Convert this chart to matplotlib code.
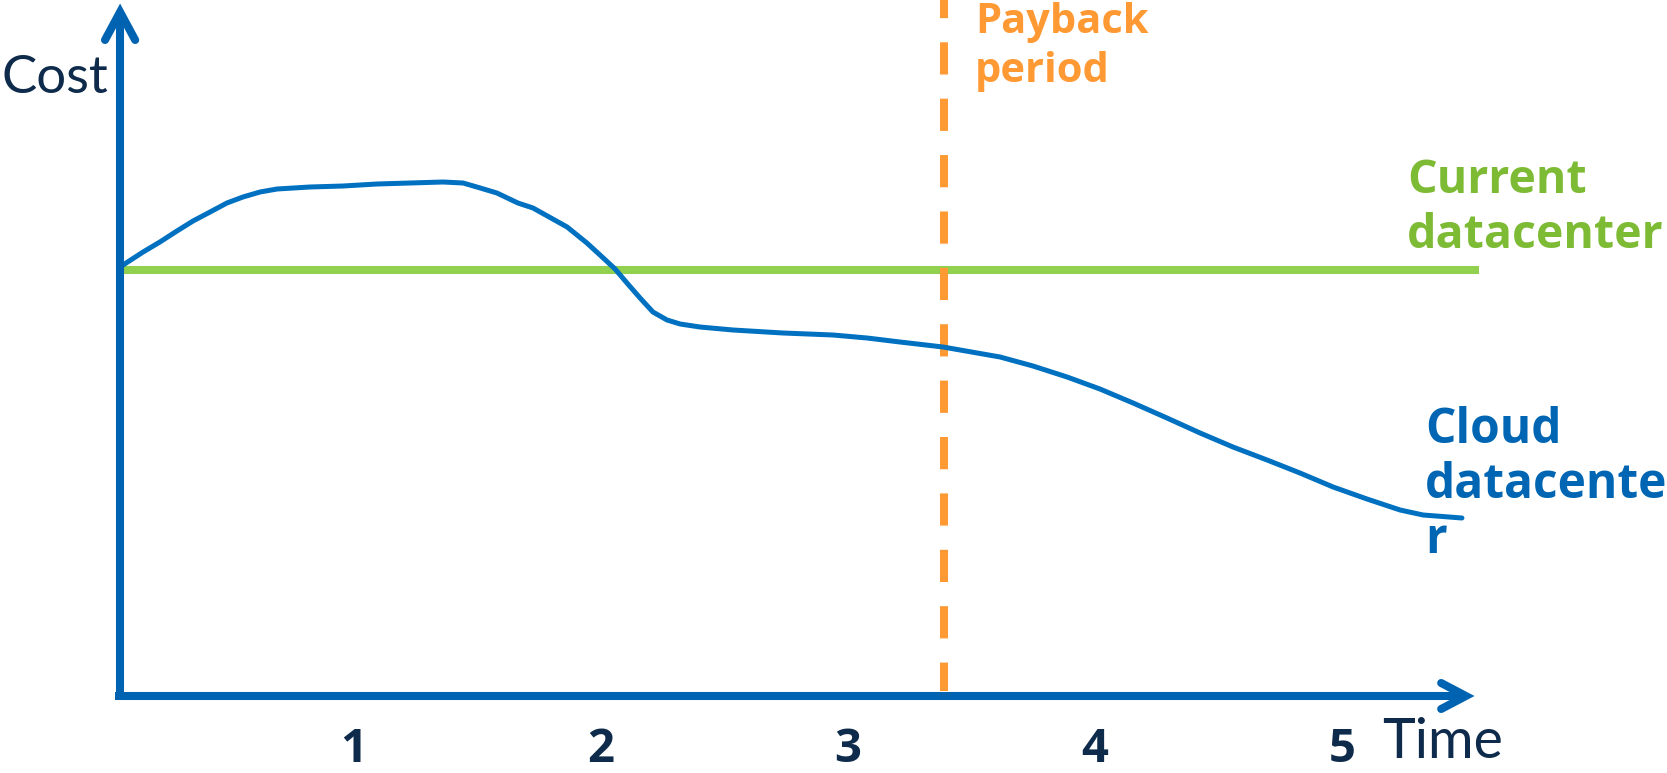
import matplotlib
matplotlib.use('Agg')
import matplotlib.pyplot as plt

# --- data (time in years, cost in arbitrary units) ---
cloud_time = [0.069, 0.150, 0.218, 0.287, 0.352, 0.421, 0.489, 0.554, 0.623, 0.692,
              0.825, 0.959, 1.096, 1.230, 1.363, 1.444, 1.500, 1.581, 1.666, 1.727,
              1.865, 1.945, 1.998, 2.059, 2.107, 2.160, 2.212, 2.269, 2.322, 2.402,
              2.536, 2.738, 2.940, 3.078, 3.211, 3.385, 3.616, 3.749, 3.887, 4.020,
              4.154, 4.291, 4.425, 4.558, 4.696, 4.829, 4.963, 5.100, 5.234, 5.327,
              5.484]
cloud_cost = [4.31, 4.44, 4.54, 4.65, 4.75, 4.84, 4.93, 4.99, 5.04, 5.07,
              5.09, 5.10, 5.12, 5.13, 5.14, 5.13, 5.09, 5.03, 4.93, 4.88,
              4.69, 4.53, 4.41, 4.27, 4.13, 3.98, 3.84, 3.76, 3.72, 3.69,
              3.66, 3.63, 3.61, 3.58, 3.54, 3.49, 3.39, 3.30, 3.19, 3.07,
              2.93, 2.78, 2.63, 2.49, 2.36, 2.23, 2.09, 1.97, 1.86, 1.81,
              1.78]
current_cost = 4.26
current_span = [0.065, 5.553]
payback_time = 3.389
year_ticks = [1, 2, 3, 4, 5]
year_labels = ['1', '2', '3', '4', '5']

# colours
AXIS_BLUE = '#0063B1'
CURVE_BLUE = '#0070C0'
CLOUD_TXT = '#0066B3'
GREEN = '#92D050'
GREEN_TXT = '#7DBB35'
ORANGE = '#FF9933'
NAVY = '#0E2B4B'

FONT = 'Lato'
BOLD_FONT = 'Open Sans'

fig = plt.figure(figsize=(16.67, 7.73), dpi=100)
ax = fig.add_axes([0, 0, 1, 1])
ax.set_xlim(-0.4287, 6.3134)
ax.set_ylim(-0.77, 6.96)
ax.axis('off')

# axes with chevron arrow heads
x0, x_end = 0.057, 5.50
y_top = 6.84
ax.plot([x0, x0], [-0.04, y_top], color=AXIS_BLUE, lw=5.8, solid_capstyle='butt', zorder=4)
ax.plot([x0 - 0.02, x_end], [0, 0], color=AXIS_BLUE, lw=5.8, solid_capstyle='butt', zorder=4)
ax.plot([x0 - 0.061, x0, x0 + 0.061], [y_top - 0.28, y_top, y_top - 0.28],
        color=AXIS_BLUE, lw=5.8, solid_capstyle='round', solid_joinstyle='miter', zorder=4)
ax.plot([x_end - 0.10, x_end, x_end - 0.10], [0.13, 0, -0.13],
        color=AXIS_BLUE, lw=5.8, solid_capstyle='round', solid_joinstyle='miter', zorder=4)

# current datacenter (flat)
ax.plot(current_span, [current_cost, current_cost], color=GREEN, lw=5.8,
        solid_capstyle='butt', zorder=1)

# payback period
ax.plot([payback_time, payback_time], [6.96, 0.05], color=ORANGE, lw=5.8,
        linestyle=(1.75, (4, 3)), dash_capstyle='butt', zorder=2)

# cloud datacenter
ax.plot(cloud_time, cloud_cost, color=CURVE_BLUE, lw=3.6, solid_capstyle='round',
        solid_joinstyle='round', zorder=3)

# labels
for t, lab in zip(year_ticks, year_labels):
    ax.text(t, -0.655, lab, ha='center', va='baseline', fontsize=34,
            fontweight='bold', color=NAVY, family=BOLD_FONT)

ax.text(-0.421, 6.03, 'Cost', ha='left', va='baseline', fontsize=38, color=NAVY, family=FONT)
ax.text(5.161, -0.62, 'Time', ha='left', va='baseline', fontsize=40, color=NAVY, family=FONT)

ax.text(3.515, 6.63, 'Payback', ha='left', va='baseline', fontsize=30,
        fontweight='bold', color=ORANGE, family=BOLD_FONT)
ax.text(3.515, 6.14, 'period', ha='left', va='baseline', fontsize=30,
        fontweight='bold', color=ORANGE, family=BOLD_FONT)

ax.text(5.262, 5.03, 'Current', ha='left', va='baseline', fontsize=33.5,
        fontweight='bold', color=GREEN_TXT, family=BOLD_FONT)
ax.text(5.262, 4.48, 'datacenter', ha='left', va='baseline', fontsize=33.5,
        fontweight='bold', color=GREEN_TXT, family=BOLD_FONT)

for yb, line in zip([2.53, 1.98, 1.43], ['Cloud', 'datacente', 'r']):
    ax.text(5.335, yb, line, ha='left', va='baseline', fontsize=34.5,
            fontweight='bold', color=CLOUD_TXT, family=BOLD_FONT)

fig.savefig('out.png', dpi=100)
